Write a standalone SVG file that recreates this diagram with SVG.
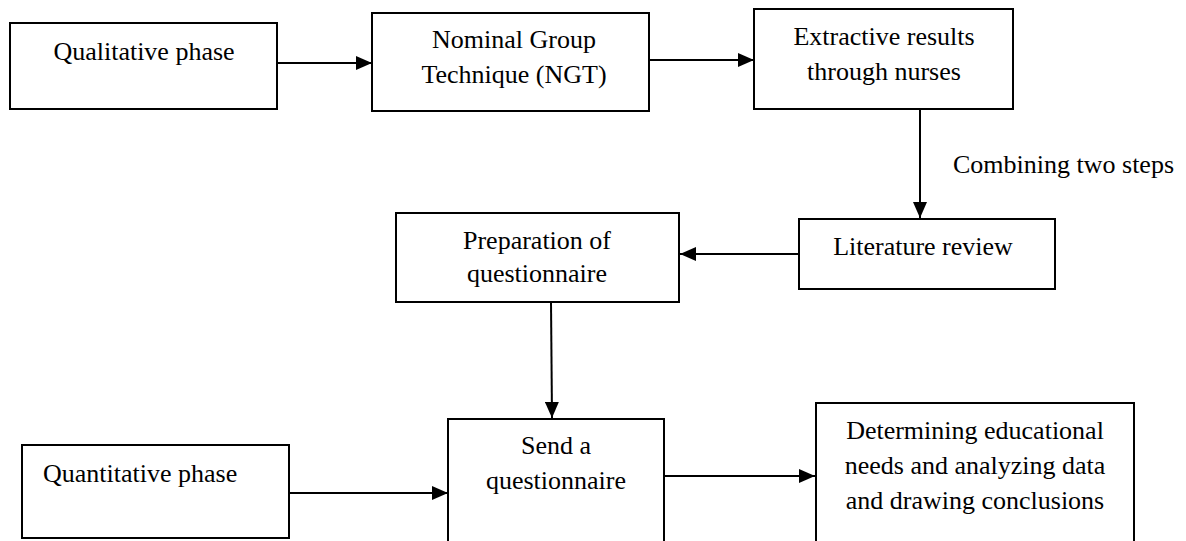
<svg xmlns="http://www.w3.org/2000/svg" width="1186" height="541" viewBox="0 0 1186 541">
<defs>
<marker id="ah" markerUnits="userSpaceOnUse" markerWidth="16" markerHeight="14" refX="16" refY="7" orient="auto">
<path d="M0,0 L16,7 L0,14 Z" fill="#000"/>
</marker>
<style>
.box{fill:#fff;stroke:#000;stroke-width:2}
.t{font-family:"Liberation Serif","Times New Roman",serif;font-size:26px;fill:#000}
.c{text-anchor:middle}
.conn{stroke:#000;stroke-width:2;fill:none;marker-end:url(#ah)}
</style>
</defs>
<rect width="1186" height="541" fill="#fff"/>
<g id="connectors">
<line class="conn" x1="277" y1="63" x2="372" y2="63"/>
<line class="conn" x1="649" y1="60" x2="754" y2="60"/>
<line class="conn" x1="920" y1="109" x2="920" y2="218"/>
<line class="conn" x1="799" y1="254" x2="680" y2="254"/>
<line class="conn" x1="551" y1="302" x2="552" y2="418"/>
<line class="conn" x1="289" y1="493" x2="448" y2="493"/>
<line class="conn" x1="664" y1="476" x2="815" y2="476"/>
<text class="t" x="953" y="173">Combining two steps</text>
</g>
<g id="qualitative">
<rect class="box" x="10" y="23" width="267" height="86"/>
<text class="t c" x="144" y="60">Qualitative phase</text>
</g>
<g id="ngt">
<rect class="box" x="372" y="13" width="277" height="98"/>
<text class="t c" x="514" y="48">Nominal Group</text>
<text class="t c" x="514" y="83">Technique (NGT)</text>
</g>
<g id="extractive">
<rect class="box" x="754" y="9" width="259" height="100"/>
<text class="t c" x="884" y="45">Extractive results</text>
<text class="t c" x="884" y="80">through nurses</text>
</g>
<g id="literature">
<rect class="box" x="799" y="219" width="256" height="70"/>
<text class="t c" x="923" y="255">Literature review</text>
</g>
<g id="preparation">
<rect class="box" x="396" y="213" width="283" height="89"/>
<text class="t c" x="537" y="249">Preparation of</text>
<text class="t c" x="537" y="282">questionnaire</text>
</g>
<g id="quantitative">
<rect class="box" x="22" y="445" width="267" height="93"/>
<text class="t" x="43" y="482">Quantitative phase</text>
</g>
<g id="send">
<rect class="box" x="448" y="419" width="216" height="140"/>
<text class="t c" x="556" y="454">Send a</text>
<text class="t c" x="556" y="489">questionnaire</text>
</g>
<g id="determining">
<rect class="box" x="816" y="403" width="318" height="160"/>
<text class="t c" x="975" y="439">Determining educational</text>
<text class="t c" x="975" y="474">needs and analyzing data</text>
<text class="t c" x="975" y="509">and drawing conclusions</text>
</g>
</svg>
